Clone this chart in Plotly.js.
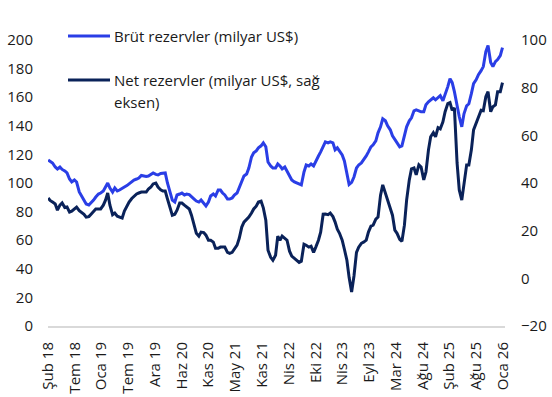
<!DOCTYPE html>
<html>
<head>
<meta charset="utf-8">
<script src="https://cdn.plot.ly/plotly-3.0.1.min.js"></script>
<style>
html,body{margin:0;padding:0;background:#fff;}
#chart{width:552px;height:397px;}
</style>
</head>
<body>
<div id="chart"></div>
<script>
const dates = [
'2018-02-15','2018-03-01','2018-03-15','2018-04-01','2018-04-15','2018-05-01','2018-05-15','2018-06-01','2018-06-15','2018-07-01','2018-07-15','2018-08-01','2018-08-15','2018-09-01','2018-09-15','2018-10-01','2018-10-15','2018-11-01','2018-11-15','2018-12-01','2018-12-15',
'2019-01-01','2019-01-15','2019-02-01','2019-02-15','2019-03-01','2019-03-15','2019-04-01','2019-04-15','2019-05-01','2019-05-15','2019-06-01','2019-06-15','2019-07-01','2019-07-15','2019-08-01','2019-08-15','2019-09-01','2019-09-15','2019-10-01','2019-10-15','2019-11-01','2019-11-15','2019-12-01','2019-12-15',
'2020-01-01','2020-01-15','2020-02-01','2020-02-15','2020-03-01','2020-03-15','2020-04-01','2020-04-15','2020-05-01','2020-05-15','2020-06-01','2020-06-15','2020-07-01','2020-07-15','2020-08-01','2020-08-15','2020-09-01','2020-09-15','2020-10-01','2020-10-15','2020-11-01','2020-11-15','2020-12-01','2020-12-15',
'2021-01-01','2021-01-15','2021-02-01','2021-02-15','2021-03-01','2021-03-15','2021-04-01','2021-04-15','2021-05-01','2021-05-15','2021-06-01','2021-06-15','2021-07-01','2021-07-15','2021-08-01','2021-08-15','2021-09-01','2021-09-15','2021-10-01','2021-10-15','2021-11-01','2021-11-15','2021-12-01','2021-12-15',
'2022-01-01','2022-01-15','2022-02-01','2022-02-15','2022-03-01','2022-03-15','2022-04-01','2022-04-15','2022-05-01','2022-05-15','2022-06-01','2022-06-15','2022-07-01','2022-07-15','2022-08-01','2022-08-15','2022-09-01','2022-09-15','2022-10-01','2022-10-15','2022-11-01','2022-11-15','2022-12-01','2022-12-15',
'2023-01-01','2023-01-15','2023-02-01','2023-02-15','2023-03-01','2023-03-15','2023-04-01','2023-04-15','2023-05-01','2023-05-15','2023-05-31','2023-06-15','2023-07-01','2023-07-15','2023-08-01','2023-08-15','2023-09-01','2023-09-15','2023-10-01','2023-10-15','2023-11-01','2023-11-15','2023-12-01','2023-12-15',
'2024-01-01','2024-01-15','2024-02-01','2024-02-15','2024-03-01','2024-03-15','2024-04-01','2024-04-15','2024-05-01','2024-05-15','2024-06-01','2024-06-15','2024-07-01','2024-07-15','2024-08-01','2024-08-15','2024-09-01','2024-09-15','2024-10-01','2024-10-15','2024-11-01','2024-11-15','2024-12-01','2024-12-15',
'2025-01-01','2025-01-15','2025-02-01','2025-02-15','2025-03-01','2025-03-15','2025-04-01','2025-04-15','2025-05-01','2025-05-15','2025-06-01','2025-06-15','2025-07-01','2025-07-15','2025-08-01','2025-08-15','2025-09-01','2025-09-15','2025-10-01','2025-10-15','2025-11-01','2025-11-15','2025-12-01','2025-12-15',
'2026-01-01','2026-01-15'
];
const grossReserves = [
116.1,115.1,114.0,111.2,109.8,111.2,109.5,108.4,107.0,102.8,100.7,102.1,100.7,93.7,90.9,88.1,85.3,84.6,86.0,88.1,90.2,
92.3,93.0,94.4,97.2,100.0,96.5,93.7,96.5,94.4,95.1,96.5,97.2,98.2,99.6,101.4,102.1,102.8,103.5,105.3,104.9,104.6,104.9,106.3,107.0,
106.0,105.6,106.7,107.0,107.0,100.0,93.0,88.0,86.7,91.6,92.3,93.0,91.6,92.3,91.9,90.2,88.8,87.4,86.7,88.1,85.6,83.9,86.7,90.9,
92.3,90.9,95.1,95.1,93.0,91.6,88.8,88.8,89.5,91.6,93.0,96.5,101.4,104.9,106.3,110.5,118.2,121.1,122.5,124.6,126.0,128.1,125.3,114.7,
111.9,110.5,110.5,113.3,111.9,109.8,111.2,108.4,105.6,102.1,100.7,100.0,99.6,98.6,107.7,112.6,111.9,113.3,111.9,115.4,118.9,121.8,125.3,128.8,
128.1,128.8,128.1,123.2,124.6,122.5,119.6,115.4,106.3,99.0,100.5,104.2,110.5,112.6,114.0,116.1,118.9,121.8,125.3,126.7,129.5,135.1,139.3,144.9,
143.5,140.0,137.2,133.0,130.5,128.1,125.3,125.9,132.3,139.3,143.5,145.6,150.5,151.2,150.5,149.8,149.8,154.7,156.8,158.2,159.6,158.2,159.6,161.1,
157.5,161.8,167.4,173.0,170.2,163.9,153.3,146.3,139.3,148.4,154.0,155.4,162.5,169.5,172.3,175.8,178.6,181.4,191.9,196.1,184.2,181.4,184.9,186.3,
189.1,194.7
];
const netReserves = [
33.7,32.6,32.0,31.2,28.6,30.7,31.6,29.7,29.9,27.8,28.2,29.1,29.9,28.4,27.8,26.9,25.7,25.9,26.9,28.0,29.1,
29.1,29.1,30.7,32.8,35.8,30.7,26.7,27.4,26.1,25.7,25.3,28.2,30.3,32.0,33.5,34.5,35.4,35.8,36.2,36.2,36.2,37.5,38.3,39.6,
40.0,38.3,37.1,36.6,36.6,33.3,29.5,26.5,26.9,28.6,31.6,31.6,30.7,29.9,29.1,26.5,22.3,18.9,17.7,19.4,19.2,18.1,16.0,16.0,
15.2,12.6,12.6,13.1,13.1,13.1,10.9,10.5,10.9,12.2,13.9,16.8,21.5,23.6,24.8,25.7,27.4,29.1,30.3,32.0,32.4,29.6,24.4,11.8,
8.8,7.6,9.7,17.7,16.0,17.7,16.8,16.0,11.4,9.3,8.4,7.6,6.7,7.2,14.3,13.9,13.1,13.5,10.9,13.1,16.0,19.4,26.9,27.0,
26.7,27.4,25.9,23.6,20.6,18.9,16.0,12.2,7.6,0.4,-5.7,1.0,10.9,13.1,14.7,15.2,16.0,19.4,21.9,22.3,24.8,25.7,34.9,39.2,
35.8,32.0,28.6,26.5,20.2,18.9,16.4,15.5,22.3,32.8,41.3,45.9,46.3,43.4,47.6,46.7,41.3,44.6,53.9,59.4,61.1,59.4,63.2,62.7,
65.7,69.9,73.3,73.7,70.5,71.5,48.4,37.1,32.8,40.0,47.6,47.6,53.9,62.3,65.3,68.2,70.5,70.3,76.2,78.3,69.9,72.0,72.8,78.3,
78.3,82.1
];
const tickLabels = ['Şub 18','Tem 18','Oca 19','Tem 19','Ara 19','Haz 20','Kas 20','May 21','Kas 21','Nis 22','Eki 22','Nis 23','Eyl 23','Mar 24','Ağu 24','Şub 25','Ağu 25','Oca 26'];
const seriesNames = ['Brüt rezervler (milyar US$)', 'Net rezervler (milyar US$, sağ', 'eksen)'];

const BLUE = '#2a3ee6';
const NAVY = '#0a2259';
const FONT = 'Open Sans, Noto Sans, sans-serif';
const TXT = '#1a1a1a';

const DAY = 86400000;
const startMs = Date.UTC(2018, 1, 14);
const stepDays = 170.3;
const toISO = ms => new Date(ms).toISOString().slice(0, 10);
const tickvals = tickLabels.map((_, k) => toISO(Date.UTC(2018, 1, 15) + k * stepDays * DAY));
const rangeEnd = toISO(startMs + 2908 * DAY);

const traces = [
  {x: dates, y: grossReserves, type: 'scatter', mode: 'lines', name: seriesNames[0],
   line: {color: BLUE, width: 3}, yaxis: 'y', showlegend: false, hoverinfo: 'skip'},
  {x: dates, y: netReserves, type: 'scatter', mode: 'lines', name: seriesNames[1] + ' ' + seriesNames[2],
   line: {color: NAVY, width: 3}, yaxis: 'y2', showlegend: false, hoverinfo: 'skip'}
];

const L = 48, T = 40, W = 457, H = 286;
const px = x => (x - L) / W;
const py = y => (T + H - y) / H;

const layout = {
  width: 552, height: 397,
  margin: {l: L, r: 552 - L - W, t: T, b: 397 - T - H},
  paper_bgcolor: '#fff', plot_bgcolor: '#fff',
  font: {family: FONT, size: 15, color: TXT},
  showlegend: false,
  xaxis: {
    type: 'date', range: [toISO(startMs), rangeEnd],
    tickmode: 'array', tickvals: tickvals, ticktext: tickLabels,
    tickangle: -90, showgrid: false, zeroline: false,
    showline: true, linecolor: '#d9d9d9', linewidth: 2,
    ticks: '', ticklabelstandoff: 8,
    tickfont: {family: FONT, size: 15, color: TXT}
  },
  yaxis: {
    range: [0, 200], dtick: 20, tick0: 0, showgrid: false, zeroline: false,
    showline: false, ticks: '', ticklabelstandoff: 14,
    tickfont: {family: FONT, size: 15, color: TXT}
  },
  yaxis2: {
    range: [-20, 100], dtick: 20, tick0: -20, overlaying: 'y', side: 'right',
    showgrid: false, zeroline: false, showline: false, ticks: '', ticklabelstandoff: 15,
    tickfont: {family: FONT, size: 15, color: TXT}
  },
  shapes: [
    {type: 'line', xref: 'paper', yref: 'paper', x0: px(68), x1: px(110), y0: py(36), y1: py(36),
     line: {color: BLUE, width: 3}},
    {type: 'line', xref: 'paper', yref: 'paper', x0: px(68), x1: px(110), y0: py(80), y1: py(80),
     line: {color: NAVY, width: 3}}
  ],
  annotations: [
    {xref: 'paper', yref: 'paper', x: px(112), y: py(36), xanchor: 'left', yanchor: 'middle',
     text: seriesNames[0], showarrow: false, font: {family: FONT, size: 15, color: TXT}},
    {xref: 'paper', yref: 'paper', x: px(112), y: py(80), xanchor: 'left', yanchor: 'middle',
     text: seriesNames[1], showarrow: false, font: {family: FONT, size: 15, color: TXT}},
    {xref: 'paper', yref: 'paper', x: px(112), y: py(102), xanchor: 'left', yanchor: 'middle',
     text: seriesNames[2], showarrow: false, font: {family: FONT, size: 15, color: TXT}}
  ]
};

Plotly.newPlot('chart', traces, layout, {displayModeBar: false, staticPlot: true});
</script>
</body>
</html>
